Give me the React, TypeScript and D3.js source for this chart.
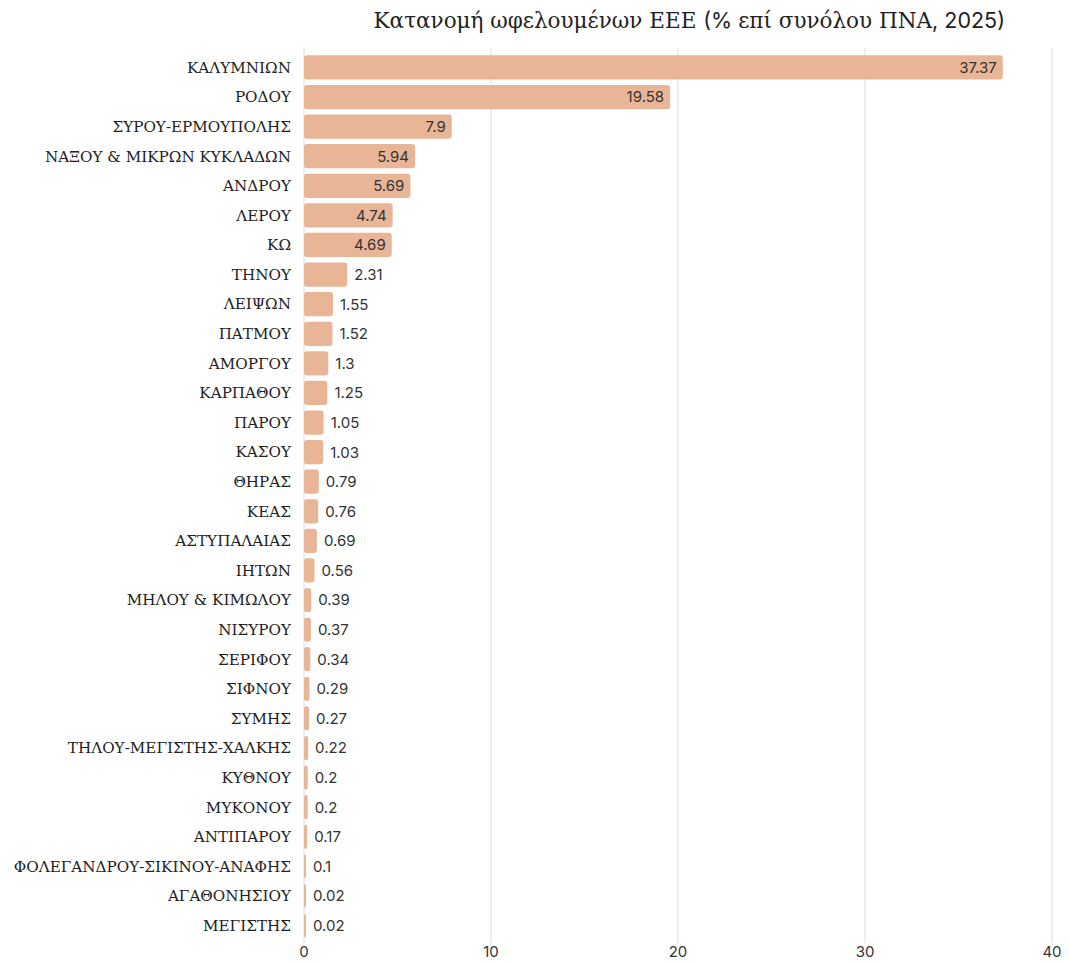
import * as d3 from "d3";

const TITLE = "Κατανομή ωφελουμένων ΕΕΕ (% επί συνόλου ΠΝΑ, 2025)";

const AREAS = [
  "ΚΑΛΥΜΝΙΩΝ",
  "ΡΟΔΟΥ",
  "ΣΥΡΟΥ-ΕΡΜΟΥΠΟΛΗΣ",
  "ΝΑΞΟΥ & ΜΙΚΡΩΝ ΚΥΚΛΑΔΩΝ",
  "ΑΝΔΡΟΥ",
  "ΛΕΡΟΥ",
  "ΚΩ",
  "ΤΗΝΟΥ",
  "ΛΕΙΨΩΝ",
  "ΠΑΤΜΟΥ",
  "ΑΜΟΡΓΟΥ",
  "ΚΑΡΠΑΘΟΥ",
  "ΠΑΡΟΥ",
  "ΚΑΣΟΥ",
  "ΘΗΡΑΣ",
  "ΚΕΑΣ",
  "ΑΣΤΥΠΑΛΑΙΑΣ",
  "ΙΗΤΩΝ",
  "ΜΗΛΟΥ & ΚΙΜΩΛΟΥ",
  "ΝΙΣΥΡΟΥ",
  "ΣΕΡΙΦΟΥ",
  "ΣΙΦΝΟΥ",
  "ΣΥΜΗΣ",
  "ΤΗΛΟΥ-ΜΕΓΙΣΤΗΣ-ΧΑΛΚΗΣ",
  "ΚΥΘΝΟΥ",
  "ΜΥΚΟΝΟΥ",
  "ΑΝΤΙΠΑΡΟΥ",
  "ΦΟΛΕΓΑΝΔΡΟΥ-ΣΙΚΙΝΟΥ-ΑΝΑΦΗΣ",
  "ΑΓΑΘΟΝΗΣΙΟΥ",
  "ΜΕΓΙΣΤΗΣ",
];

const SHARES = [
  37.37, 19.58, 7.9, 5.94, 5.69, 4.74, 4.69, 2.31, 1.55, 1.52, 1.3, 1.25, 1.05, 1.03, 0.79, 0.76, 0.69,
  0.56, 0.39, 0.37, 0.34, 0.29, 0.27, 0.22, 0.2, 0.2, 0.17, 0.1, 0.02, 0.02,
];

const X_TICKS = [0, 10, 20, 30, 40];

const WIDTH = 1069;
const HEIGHT = 964;
const SERIF = "'DejaVu Serif', 'Liberation Serif', serif";
const SANS = "Inter, 'Open Sans', sans-serif";
const BAR = "#e9b597";

// greek runs in serif, digits and punctuation in sans, like the original's font fallback
function splitRuns(text: string) {
  return text.split(/([\u0370-\u03FF\u1F00-\u1FFF][\u0370-\u03FF\u1F00-\u1FFF ]*)/).filter((s) => s.length > 0);
}

export default function App() {
  const data = AREAS.map((area, i) => ({ area, value: SHARES[i] }));

  const x = d3.scaleLinear().domain([0, 40]).range([304, 1052]);
  const y = d3.scaleBand().domain(AREAS).range([50, 943]).padding(0.18);

  return (
    <svg
      width={WIDTH}
      height={HEIGHT}
      style={{ position: "absolute", left: 0, top: 0, background: "#fff" }}
    >
      <text x={1005} y={28} textAnchor="end" fontSize={21.5} fill="#222" xmlSpace="preserve">
        {splitRuns(TITLE).map((run, i) => (
          <tspan key={i} fontFamily={/[\u0370-\u03FF]/.test(run) ? SERIF : SANS}>
            {run}
          </tspan>
        ))}
      </text>

      {X_TICKS.map((t) => (
        <g key={t}>
          <line x1={x(t)} x2={x(t)} y1={48} y2={943} stroke="#dcdcdc" strokeWidth={1} />
          <text x={x(t)} y={957} textAnchor="middle" fontFamily={SANS} fontSize={15} fill="#333">
            {t}
          </text>
        </g>
      ))}

      {data.map((d) => {
        const y0 = y(d.area) ?? 0;
        const cy = y0 + y.bandwidth() / 2;
        const w = Math.max(2, x(d.value) - x(0));
        const inside = d.value > 4;
        return (
          <g key={d.area}>
            <rect x={x(0)} y={y0} width={w} height={y.bandwidth()} rx={3} fill={BAR} />
            <text
              x={x(0) - 13}
              y={cy}
              dy="0.35em"
              textAnchor="end"
              fontFamily={SERIF}
              fontSize={15.2}
              fill="#222"
            >
              {d.area}
            </text>
            <text
              x={inside ? x(d.value) - 6 : x(0) + w + 7}
              y={cy}
              dy="0.36em"
              textAnchor={inside ? "end" : "start"}
              fontFamily={SANS}
              fontSize={15}
              fill="#333"
            >
              {d.value}
            </text>
          </g>
        );
      })}
    </svg>
  );
}
